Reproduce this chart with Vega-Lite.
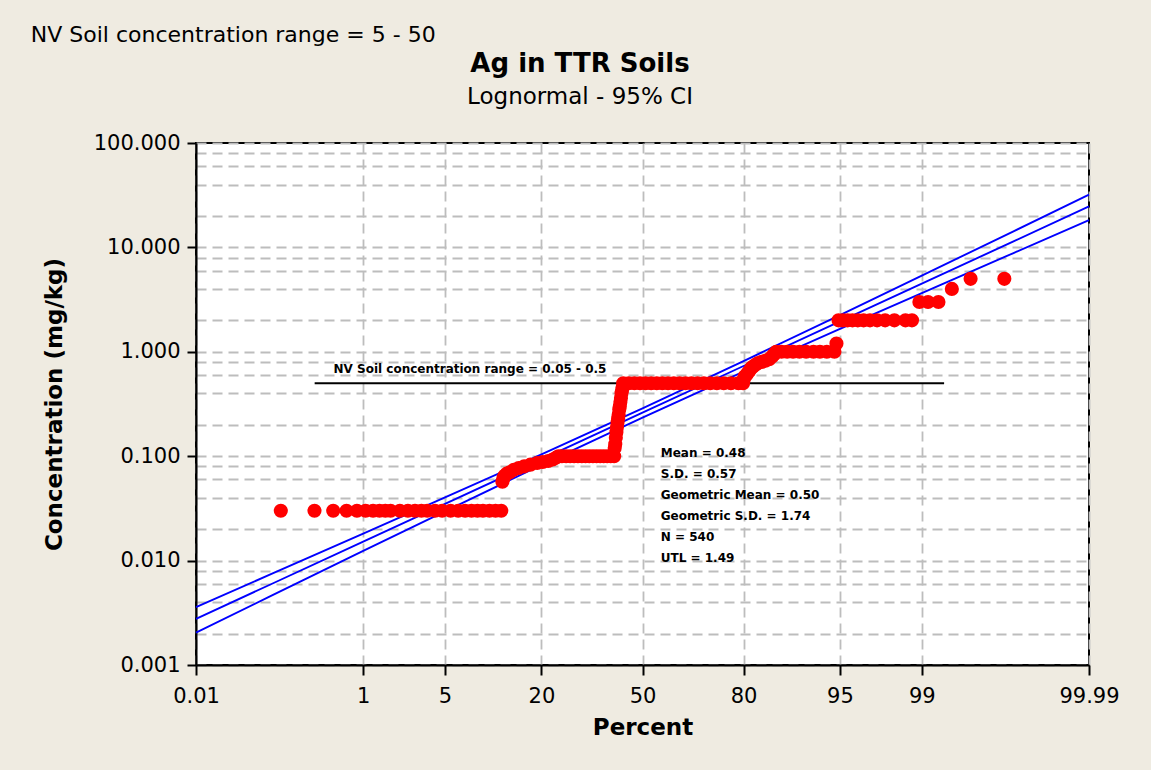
{
  "$schema": "https://vega.github.io/schema/vega-lite/v6.json",
  "width": 893,
  "height": 522,
  "autosize": {"type": "none"},
  "padding": {"left": 196, "top": 143, "right": 62, "bottom": 105},
  "background": "#EFEBE1",
  "datasets": {
    "fit": [
      {"p": 0.01, "lower": 0.002046, "fit": 0.002767, "upper": 0.003589},
      {"p": 0.1, "lower": 0.004614, "fit": 0.00597, "upper": 0.007456},
      {"p": 1, "lower": 0.01237, "fit": 0.0152, "upper": 0.01816},
      {"p": 5, "lower": 0.02965, "fit": 0.03495, "upper": 0.04027},
      {"p": 20, "lower": 0.08241, "fit": 0.09335, "upper": 0.1039},
      {"p": 50, "lower": 0.2347, "fit": 0.2612, "upper": 0.2865},
      {"p": 80, "lower": 0.6453, "fit": 0.731, "upper": 0.814},
      {"p": 95, "lower": 1.656, "fit": 1.952, "upper": 2.249},
      {"p": 99, "lower": 3.652, "fit": 4.488, "upper": 5.364},
      {"p": 99.9, "lower": 8.833, "fit": 11.43, "upper": 14.27},
      {"p": 99.99, "lower": 18.24, "fit": 24.66, "upper": 31.99}
    ],
    "nvline": [
      {"p": 0.316, "c": 0.5},
      {"p": 99.4, "c": 0.5}
    ],
    "ag": [
      {"p": 0.1295, "c": 0.03}, {"p": 0.3146, "c": 0.03}, {"p": 0.4996, "c": 0.03}, {"p": 0.6847, "c": 0.03},
      {"p": 0.8697, "c": 0.03}, {"p": 1.0548, "c": 0.03}, {"p": 1.2398, "c": 0.03}, {"p": 1.4249, "c": 0.03},
      {"p": 1.6099, "c": 0.03}, {"p": 1.795, "c": 0.03}, {"p": 2.1651, "c": 0.03}, {"p": 2.5352, "c": 0.03},
      {"p": 2.9053, "c": 0.03}, {"p": 3.2754, "c": 0.03}, {"p": 3.6455, "c": 0.03}, {"p": 4.2006, "c": 0.03},
      {"p": 4.7558, "c": 0.03}, {"p": 5.496, "c": 0.03}, {"p": 6.2362, "c": 0.03}, {"p": 6.9764, "c": 0.03},
      {"p": 7.7165, "c": 0.03}, {"p": 8.4567, "c": 0.03}, {"p": 9.1969, "c": 0.03}, {"p": 10.122, "c": 0.03},
      {"p": 11.047, "c": 0.03}, {"p": 11.973, "c": 0.03},
      {"p": 12.158, "c": 0.057}, {"p": 12.343, "c": 0.062}, {"p": 12.528, "c": 0.065}, {"p": 12.898, "c": 0.068},
      {"p": 13.453, "c": 0.07}, {"p": 14.193, "c": 0.074}, {"p": 15.119, "c": 0.077}, {"p": 16.229, "c": 0.08},
      {"p": 17.524, "c": 0.083}, {"p": 19.005, "c": 0.086}, {"p": 20.3, "c": 0.088}, {"p": 21.595, "c": 0.09},
      {"p": 22.706, "c": 0.093}, {"p": 23.631, "c": 0.097},
      {"p": 24.186, "c": 0.1}, {"p": 25.111, "c": 0.1}, {"p": 26.222, "c": 0.1}, {"p": 27.332, "c": 0.1},
      {"p": 28.442, "c": 0.1}, {"p": 29.552, "c": 0.1}, {"p": 30.663, "c": 0.1}, {"p": 31.773, "c": 0.1},
      {"p": 32.883, "c": 0.1}, {"p": 33.993, "c": 0.1}, {"p": 35.104, "c": 0.1}, {"p": 36.214, "c": 0.1},
      {"p": 37.324, "c": 0.1}, {"p": 38.435, "c": 0.1}, {"p": 39.545, "c": 0.1}, {"p": 40.655, "c": 0.1},
      {"p": 40.84, "c": 0.12}, {"p": 41.025, "c": 0.13}, {"p": 41.211, "c": 0.15}, {"p": 41.396, "c": 0.17},
      {"p": 41.581, "c": 0.19}, {"p": 41.766, "c": 0.21}, {"p": 41.951, "c": 0.23}, {"p": 42.136, "c": 0.25},
      {"p": 42.321, "c": 0.28}, {"p": 42.506, "c": 0.3}, {"p": 42.691, "c": 0.33}, {"p": 42.876, "c": 0.36},
      {"p": 43.061, "c": 0.4}, {"p": 43.246, "c": 0.43}, {"p": 43.431, "c": 0.46},
      {"p": 43.616, "c": 0.5}, {"p": 45.467, "c": 0.5}, {"p": 47.317, "c": 0.5}, {"p": 49.168, "c": 0.5},
      {"p": 51.018, "c": 0.5}, {"p": 52.869, "c": 0.5}, {"p": 54.719, "c": 0.5}, {"p": 56.57, "c": 0.5},
      {"p": 58.42, "c": 0.5}, {"p": 60.271, "c": 0.5}, {"p": 62.121, "c": 0.5}, {"p": 63.972, "c": 0.5},
      {"p": 65.822, "c": 0.5}, {"p": 67.673, "c": 0.5}, {"p": 69.523, "c": 0.5}, {"p": 71.374, "c": 0.5},
      {"p": 73.224, "c": 0.5}, {"p": 75.075, "c": 0.5}, {"p": 76.925, "c": 0.5}, {"p": 78.776, "c": 0.5},
      {"p": 79.886, "c": 0.5},
      {"p": 80.071, "c": 0.55}, {"p": 80.256, "c": 0.58}, {"p": 80.626, "c": 0.6}, {"p": 80.996, "c": 0.63},
      {"p": 81.366, "c": 0.66}, {"p": 81.736, "c": 0.7}, {"p": 82.107, "c": 0.72}, {"p": 82.662, "c": 0.75},
      {"p": 83.217, "c": 0.78}, {"p": 83.957, "c": 0.8}, {"p": 84.697, "c": 0.82}, {"p": 85.437, "c": 0.85},
      {"p": 85.992, "c": 0.9}, {"p": 86.362, "c": 0.95},
      {"p": 86.733, "c": 1.0}, {"p": 87.658, "c": 1.0}, {"p": 88.583, "c": 1.0}, {"p": 89.509, "c": 1.0},
      {"p": 90.434, "c": 1.0}, {"p": 91.359, "c": 1.0}, {"p": 92.284, "c": 1.0}, {"p": 93.025, "c": 1.0},
      {"p": 93.765, "c": 1.0}, {"p": 94.505, "c": 1.0},
      {"p": 94.69, "c": 1.2},
      {"p": 94.874, "c": 2.0}, {"p": 95.245, "c": 2.0}, {"p": 95.615, "c": 2.0}, {"p": 95.985, "c": 2.0},
      {"p": 96.355, "c": 2.0}, {"p": 96.725, "c": 2.0}, {"p": 97.095, "c": 2.0}, {"p": 97.465, "c": 2.0},
      {"p": 97.835, "c": 2.0}, {"p": 98.205, "c": 2.0}, {"p": 98.575, "c": 2.0}, {"p": 98.76, "c": 2.0},
      {"p": 98.945, "c": 3.0}, {"p": 99.13, "c": 3.0}, {"p": 99.315, "c": 3.0},
      {"p": 99.501, "c": 4.0},
      {"p": 99.686, "c": 5.0}, {"p": 99.871, "c": 5.0}
    ],
    "notes": [
      {"p": 0.503, "c": 0.628, "label": "NV Soil concentration range = 0.05 - 0.5"},
      {"p": 56.04, "c": 0.0982, "label": "Mean = 0.48"},
      {"p": 56.04, "c": 0.0618, "label": "S.D. = 0.57"},
      {"p": 56.04, "c": 0.0389, "label": "Geometric Mean = 0.50"},
      {"p": 56.04, "c": 0.02445, "label": "Geometric S.D. = 1.74"},
      {"p": 56.04, "c": 0.01538, "label": "N = 540"},
      {"p": 56.04, "c": 0.00967, "label": "UTL = 1.49"}
    ],
    "corner": [
      {"p": 0.00001745, "c": 934, "label": "NV Soil concentration range = 5 - 50"}
    ],
    "heading": [
      {"p": 30.13, "c": 482, "label": "Ag in TTR Soils", "role": "title"}
    ],
    "subheading": [
      {"p": 30.13, "c": 236, "label": "Lognormal - 95% CI", "role": "subtitle"}
    ]
  },
  "encoding": {
    "x": {
      "field": "z",
      "type": "quantitative",
      "title": "Percent",
      "scale": {"domain": [-3.719016, 3.719016], "nice": false, "zero": false},
      "axis": {
        "values": [-3.719016, -2.326348, -1.644854, -0.841621, 0, 0.841621, 1.644854, 2.326348, 3.719016],
        "labelExpr": "format(round(cumulativeNormal(datum.value) * 10000) / 100, '~f')",
        "labelFlush": false,
        "labelOverlap": false,
        "tickSize": 10,
        "labelPadding": 10,
        "titlePadding": 10
      }
    },
    "y": {
      "field": "c",
      "type": "quantitative",
      "title": "Concentration (mg/kg)",
      "scale": {"type": "log", "domain": [0.001, 100], "nice": false},
      "axis": {
        "values": [0.001, 0.002, 0.004, 0.006, 0.008, 0.01, 0.02, 0.04, 0.06, 0.08, 0.1, 0.2, 0.4, 0.6, 0.8, 1, 2, 4, 6, 8, 10, 20, 40, 60, 80, 100],
        "labelExpr": "abs(log(datum.value) / LN10 - round(log(datum.value) / LN10)) < 0.001 ? format(datum.value, '.3f') : ''",
        "tickOpacity": {"condition": {"test": "abs(log(datum.value) / LN10 - round(log(datum.value) / LN10)) < 0.001", "value": 1}, "value": 0},
        "labelOverlap": false,
        "labelFlush": false,
        "tickSize": 9,
        "labelPadding": 7,
        "titlePadding": 27
      }
    }
  },
  "layer": [
    {
      "data": {"name": "fit"},
      "transform": [
        {"fold": ["lower", "fit", "upper"], "as": ["band", "c"]},
        {"calculate": "quantileNormal(datum.p / 100)", "as": "z"}
      ],
      "mark": {"type": "line", "color": "#0000FF", "strokeWidth": 1.9},
      "encoding": {"detail": {"field": "band"}}
    },
    {
      "data": {"name": "nvline"},
      "transform": [{"calculate": "quantileNormal(datum.p / 100)", "as": "z"}],
      "mark": {"type": "line", "color": "black", "strokeWidth": 2},
      "encoding": {}
    },
    {
      "data": {"name": "ag"},
      "transform": [{"calculate": "quantileNormal(datum.p / 100)", "as": "z"}],
      "mark": {"type": "circle", "color": "#FF0000", "size": 200, "opacity": 1}
    },
    {
      "data": {"name": "notes"},
      "transform": [{"calculate": "quantileNormal(datum.p / 100)", "as": "z"}],
      "mark": {"type": "text", "align": "left", "baseline": "alphabetic", "font": "DejaVu Sans", "fontSize": 12, "fontWeight": "bold", "color": "black"},
      "encoding": {"text": {"field": "label"}}
    },
    {
      "data": {"name": "corner"},
      "transform": [{"calculate": "quantileNormal(datum.p / 100)", "as": "z"}],
      "mark": {"type": "text", "align": "left", "baseline": "alphabetic", "font": "DejaVu Sans", "fontSize": 22, "color": "black"},
      "encoding": {"text": {"field": "label"}}
    },
    {
      "data": {"name": "heading"},
      "transform": [{"calculate": "quantileNormal(datum.p / 100)", "as": "z"}],
      "mark": {"type": "text", "align": "center", "baseline": "alphabetic", "font": "DejaVu Sans", "fontSize": 26, "fontWeight": "bold", "color": "black"},
      "encoding": {"text": {"field": "label"}}
    },
    {
      "data": {"name": "subheading"},
      "transform": [{"calculate": "quantileNormal(datum.p / 100)", "as": "z"}],
      "mark": {"type": "text", "align": "center", "baseline": "alphabetic", "font": "DejaVu Sans", "fontSize": 23, "color": "black"},
      "encoding": {"text": {"field": "label"}}
    }
  ],
  "config": {
    "font": "DejaVu Sans",
    "view": {"fill": "white", "stroke": "black", "strokeWidth": 2},
    "axis": {
      "domainColor": "black",
      "domainWidth": 2,
      "tickColor": "black",
      "tickWidth": 2,
      "grid": true,
      "gridColor": "#BDBDBD",
      "gridDash": [10, 6],
      "gridWidth": 1.8,
      "labelFont": "DejaVu Sans",
      "labelFontSize": 21,
      "labelColor": "black",
      "titleFont": "DejaVu Sans",
      "titleFontSize": 23,
      "titleFontWeight": "bold",
      "titleColor": "black"
    }
  }
}
